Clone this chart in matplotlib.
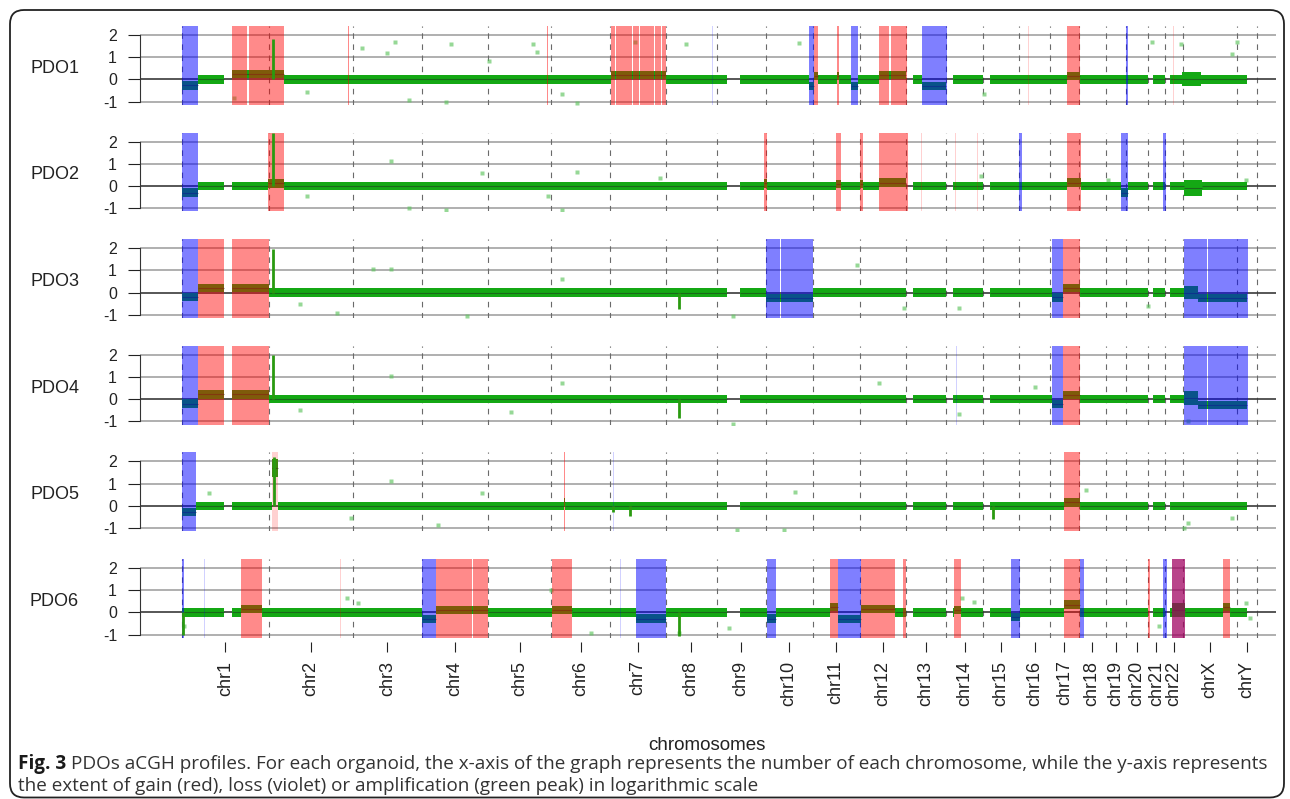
import numpy as np
import matplotlib.pyplot as plt
from matplotlib.patches import FancyBboxPatch
from matplotlib.transforms import IdentityTransform

plt.rcParams["font.family"] = ["Liberation Sans", "DejaVu Sans"]

W, H, DPI = 1290, 799, 100

# ── Genome layout (hg19, Mb) ───────────────────────────
chrom_names = ["chr1", "chr2", "chr3", "chr4", "chr5", "chr6", "chr7", "chr8",
               "chr9", "chr10", "chr11", "chr12", "chr13", "chr14", "chr15",
               "chr16", "chr17", "chr18", "chr19", "chr20", "chr21", "chr22",
               "chrX", "chrY"]
chrom_len = [249.25, 243.20, 198.02, 191.15, 180.92, 171.12, 159.14, 146.36,
             141.21, 135.53, 135.01, 133.85, 115.17, 107.35, 102.53, 90.35,
             81.20, 78.08, 59.13, 63.03, 48.13, 51.30, 155.27, 59.37]

# regions without probes (cumulative Mb)
no_probe = [(121, 143), (1570, 1606), (2085, 2104), (2200, 2219), (2307, 2327),
            (2782, 2797), (2830, 2846), (3066, 3096)]

# ── PDO1 ───────────────────────────────────────────────
pdo1_gain = [(143, 187), (193, 294), (479, 482), (1051, 1054), (1234, 1246),
             (1249, 1295), (1298, 1315), (1318, 1358), (1361, 1378), (1381, 1393),
             (1821, 1831), (1885, 1893), (2007, 2037), (2040, 2088), (2548, 2586)]
pdo1_loss = [(0, 47), (1806, 1821), (1927, 1947), (2132, 2203), (2718, 2724)]
pdo1_seg = [(0, 47, -0.27), (143, 294, 0.25), (1234, 1393, 0.2), (1806, 1821, -0.3),
            (1821, 1831, 0.15), (1885, 1893, 0.15), (1927, 1947, -0.3),
            (2007, 2088, 0.2), (2132, 2203, -0.3), (2548, 2586, 0.15),
            (2880, 2935, 0.0, 0.32)]
pdo1_spike = [(263, 1.8)]
pdo1_faint_gain = [(2436, 2438), (2853, 2855)]
pdo1_faint_loss = [(1527, 1529), (2418, 2420)]
pdo1_dots_x = [151, 361, 518, 591, 612, 654, 759, 774, 885, 1011, 1021, 1094,
               1136, 1304, 1451, 1776, 2310, 2792, 2876, 3022, 3039]
pdo1_dots_y = [-0.85, -0.55, 1.4, 1.2, 1.7, -0.95, -1.0, 1.6, 0.85, 1.6, 1.25,
               -0.65, -1.05, 1.7, 1.6, 1.65, -0.65, 1.7, 1.6, 1.15, 1.7]

# ── PDO2 ───────────────────────────────────────────────
pdo2_gain = [(248, 294), (1675, 1683), (1883, 1897), (1952, 1960), (2006, 2090),
             (2549, 2589)]
pdo2_loss = [(0, 45), (2410, 2419), (2704, 2725), (2826, 2834)]
pdo2_seg = [(0, 45, -0.3), (248, 294, 0.12), (1675, 1683, 0.12), (1883, 1897, 0.1),
            (1952, 1960, 0.1), (2006, 2090, 0.15), (2549, 2589, 0.15),
            (2704, 2725, -0.3), (2886, 2938, -0.1, 0.36)]
pdo2_spike = [(263, 2.4)]
pdo2_faint_gain = [(1430, 1432), (2128, 2130), (2226, 2228), (2289, 2291)]
pdo2_faint_loss = []
pdo2_dots_x = [361, 602, 654, 759, 864, 1053, 1094, 1136, 1377, 2300, 2666, 3064]
pdo2_dots_y = [-0.47, 1.13, -1.0, -1.07, 0.58, -0.47, -1.07, 0.65, 0.35, 0.43,
               0.27, 0.27]

# ── PDO3 ───────────────────────────────────────────────
pdo3_gain = [(47, 120), (143, 250), (2536, 2587)]
pdo3_loss = [(0, 47), (1681, 1722), (1724, 1818), (2505, 2536), (2886, 2942),
             (2944, 2952), (2954, 3069)]
pdo3_seg = [(0, 47, -0.2), (47, 121, 0.2), (143, 250, 0.2), (1681, 1816, -0.25),
            (2505, 2536, -0.22), (2536, 2587, 0.2), (2886, 2925, 0.0, 0.3),
            (2925, 3066, -0.25)]
pdo3_spike = [(263, 1.95), (1430, -0.75)]
pdo3_faint_gain = []
pdo3_faint_loss = [(330, 332), (1430, 1432)]
pdo3_dots_x = [340, 445, 550, 602, 822, 1094, 1587, 1943, 2079, 2237, 2781]
pdo3_dots_y = [-0.53, -0.93, 1.05, 1.08, -1.05, 0.63, -1.05, 1.23, -0.68, -0.68,
               -0.6]

# ── PDO4 ───────────────────────────────────────────────
pdo4_gain = [(47, 120), (143, 250), (2536, 2587)]
pdo4_loss = [(0, 47), (2505, 2536), (2886, 2942), (2944, 2952), (2954, 3069)]
pdo4_seg = [(0, 47, -0.2), (47, 121, 0.22), (143, 250, 0.22), (2505, 2536, -0.22),
            (2536, 2587, 0.2), (2886, 2925, 0.05, 0.3), (2925, 3066, -0.25)]
pdo4_spike = [(263, 2.0), (1430, -0.85)]
pdo4_faint_gain = []
pdo4_faint_loss = [(1430, 1432), (2229, 2231)]
pdo4_dots_x = [340, 602, 948, 1094, 1587, 2006, 2237, 2457, 2897]
pdo4_dots_y = [-0.5, 1.04, -0.57, 0.71, -1.1, 0.71, -0.65, 0.56, -1.0]

# ── PDO5 ───────────────────────────────────────────────
pdo5_gain = [(1099, 1103), (2541, 2587)]
pdo5_loss = [(0, 40)]
pdo5_seg = [(0, 40, -0.28), (258, 275, 1.7, 0.4), (1099, 1103, 0.15),
            (2541, 2587, 0.15)]
pdo5_spike = [(266, 2.2), (1241, -0.3), (1289, -0.45), (2335, -0.6)]
pdo5_faint_gain = [(258, 275)]
pdo5_faint_loss = [(1241, 1243), (1289, 1291), (2331, 2333)]
pdo5_dots_x = [78, 487, 602, 738, 864, 1597, 1734, 1765, 2603, 2886, 2897, 3022]
pdo5_dots_y = [0.58, -0.55, 1.11, -0.85, 0.58, -1.08, -1.08, 0.63, 0.73, -1.0,
               -0.78, -0.55]

# ── PDO6 ───────────────────────────────────────────────
pdo6_gain = [(170, 229), (732, 825), (827, 836), (838, 881), (1065, 1122),
             (1866, 1889), (1956, 2000), (2002, 2052), (2075, 2086), (2222, 2243),
             (2541, 2587), (2781, 2788), (2851, 2888), (2997, 3018)]
pdo6_loss = [(0, 7), (690, 732), (1308, 1394), (1683, 1711), (1889, 1956),
             (2388, 2413), (2587, 2597), (2825, 2836), (2851, 2888)]
pdo6_seg = [(170, 229, 0.15), (690, 732, -0.3), (732, 881, 0.12), (1065, 1122, 0.12),
            (1308, 1394, -0.28), (1683, 1711, -0.28), (1866, 1889, 0.25),
            (1889, 1956, -0.3), (1956, 2052, 0.15), (2222, 2243, 0.12),
            (2388, 2413, -0.2), (2541, 2587, 0.35), (2851, 2888, 0.1, 0.32),
            (2997, 3018, 0.25)]
pdo6_spike = [(2, -1.0), (1430, -1.05)]
pdo6_faint_gain = [(455, 457)]
pdo6_faint_loss = [(63, 65), (1262, 1264)]
pdo6_dots_x = [5, 476, 508, 1063, 1178, 1430, 1576, 2247, 2279, 2813, 3065, 3075]
pdo6_dots_y = [-0.63, 0.63, 0.41, 1.0, -0.93, -0.93, -0.7, 0.63, 0.48, -0.63,
               0.41, -0.26]

panel_names = ["PDO1", "PDO2", "PDO3", "PDO4", "PDO5", "PDO6"]
panels = [
    (pdo1_gain, pdo1_loss, pdo1_seg, pdo1_spike, pdo1_faint_gain, pdo1_faint_loss, pdo1_dots_x, pdo1_dots_y),
    (pdo2_gain, pdo2_loss, pdo2_seg, pdo2_spike, pdo2_faint_gain, pdo2_faint_loss, pdo2_dots_x, pdo2_dots_y),
    (pdo3_gain, pdo3_loss, pdo3_seg, pdo3_spike, pdo3_faint_gain, pdo3_faint_loss, pdo3_dots_x, pdo3_dots_y),
    (pdo4_gain, pdo4_loss, pdo4_seg, pdo4_spike, pdo4_faint_gain, pdo4_faint_loss, pdo4_dots_x, pdo4_dots_y),
    (pdo5_gain, pdo5_loss, pdo5_seg, pdo5_spike, pdo5_faint_gain, pdo5_faint_loss, pdo5_dots_x, pdo5_dots_y),
    (pdo6_gain, pdo6_loss, pdo6_seg, pdo6_spike, pdo6_faint_gain, pdo6_faint_loss, pdo6_dots_x, pdo6_dots_y),
]

caption_bold = "Fig. 3"
caption_1 = ("PDOs aCGH profiles. For each organoid, the x-axis of the graph represents "
             "the number of each chromosome, while the y-axis represents")
caption_2 = "the extent of gain (red), loss (violet) or amplification (green peak) in logarithmic scale"

# ── Derived positions ──────────────────────────────────
chrom_start = np.concatenate([[0.0], np.cumsum(chrom_len)[:-1]])
genome_end = float(np.sum(chrom_len))
chrom_mid = chrom_start + np.array(chrom_len) / 2

GREEN = "#14a814"
DARK = "#1f3f1f"
HW = 0.19


def band_pieces(segs):
    cuts = {0.0, genome_end}
    for s in segs:
        cuts.update(s[:2])
    for a, b in no_probe:
        cuts.update((a, b))
    cuts = sorted(c for c in cuts if 0 <= c <= genome_end)
    out = []
    for a, b in zip(cuts[:-1], cuts[1:]):
        m = (a + b) / 2
        if any(g0 <= m <= g1 for g0, g1 in no_probe):
            continue
        lvl, hw = 0.0, HW
        for s in segs:
            if s[0] <= m <= s[1]:
                lvl = s[2]
                hw = s[3] if len(s) > 3 else HW
        out.append((a, b, lvl, hw))
    return out


fig = plt.figure(figsize=(W / DPI, H / DPI), dpi=DPI)

ax_left, ax_right = 140, 1276
ax_h = 78.8
pitch = 106.6

for i, (name, p) in enumerate(zip(panel_names, panels)):
    gain, loss, seg, spike, fgain, floss, dx, dy = p
    top = 25.9 + i * pitch
    ax = fig.add_axes([ax_left / W, 1 - (top + ax_h) / H, (ax_right - ax_left) / W, ax_h / H])
    ax.set_xlim(-121, 3150)
    ax.set_ylim(-1.14, 2.41)

    for y in (-1, 1, 2):
        ax.axhline(y, color="#a9a9a9", lw=1.3, zorder=1)
    ax.axhline(0, color="#3a3a3a", lw=1.2, zorder=1.5)
    for x in list(chrom_start) + [genome_end]:
        ax.axvline(x, color="#6a6a6a", lw=0.8, ls=(0, (5, 5)), zorder=1.2)

    ax.plot(dx, dy, "s", ms=2.6, color="#5ec45e", alpha=0.65, mec="none", zorder=2)

    for a, b, lvl, hw in band_pieces(seg):
        ax.fill_between([a, b], [lvl - hw] * 2, [lvl + hw] * 2, color=GREEN, lw=0, zorder=2)
        ax.hlines(lvl, a, b, color=DARK, lw=0.8, alpha=0.6, zorder=2.2)

    for a, b in loss:
        ax.axvspan(a, b, color="#0000ff", alpha=0.5, lw=0, zorder=3)
    for a, b in gain:
        ax.axvspan(a, b, color="#ff0000", alpha=0.46, lw=0, zorder=3)
    for a, b in fgain:
        ax.axvspan(a, b, color="#ff0000", alpha=0.18, lw=0, zorder=3)
    for a, b in floss:
        ax.axvspan(a, b, color="#0000ff", alpha=0.18, lw=0, zorder=3)

    for x, h in spike:
        ax.vlines(x, 0, h, color="#2a9a10", lw=2.0, zorder=4)

    for s in ("top", "right", "bottom"):
        ax.spines[s].set_visible(False)
    ax.spines["left"].set_bounds(-1, 2)
    ax.spines["left"].set_color("#333333")
    ax.set_yticks([-1, 0, 1, 2])
    ax.set_yticklabels(["-1", "0", "1", "2"])
    ax.tick_params(axis="y", length=8.5, pad=8, labelsize=11.5, colors="#222222")

    if i == len(panels) - 1:
        ax.spines["bottom"].set_position(("outward", 3))
        ax.set_xticks(chrom_mid)
        ax.set_xticklabels(chrom_names, rotation=90, fontsize=13)
        ax.tick_params(axis="x", length=7.5, pad=6, colors="#222222")
    else:
        ax.set_xticks([])

    fig.text(54.5 / W, 1 - (68.3 + i * pitch) / H, name, ha="center", va="center",
             fontsize=13, color="#222222")

fig.text(707 / W, 1 - 746 / H, "chromosomes", ha="center", va="center",
         fontsize=13.5, color="#222222")

# ── Caption ────────────────────────────────────────────
CAP = 13.6
tb = fig.text(18 / W, 1 - 764 / H, caption_bold, ha="left", va="center",
              fontsize=CAP, fontweight="bold", family="Open Sans", color="#1a1a1a")
fig.canvas.draw()
bb = tb.get_window_extent(fig.canvas.get_renderer())
fig.text((bb.x1 + 5) / W, 1 - 764 / H, caption_1, ha="left", va="center",
         fontsize=CAP, family="Open Sans", color="#333333")
fig.text(18 / W, 1 - 786 / H, caption_2, ha="left", va="center",
         fontsize=CAP, family="Open Sans", color="#333333")

box = FancyBboxPatch((10, 1.5), 1274, 787.5, boxstyle="round,pad=0,rounding_size=14",
                     transform=IdentityTransform(), fill=False, ec="#222222", lw=1.3)
fig.add_artist(box)

fig.savefig("out.png", dpi=DPI)
